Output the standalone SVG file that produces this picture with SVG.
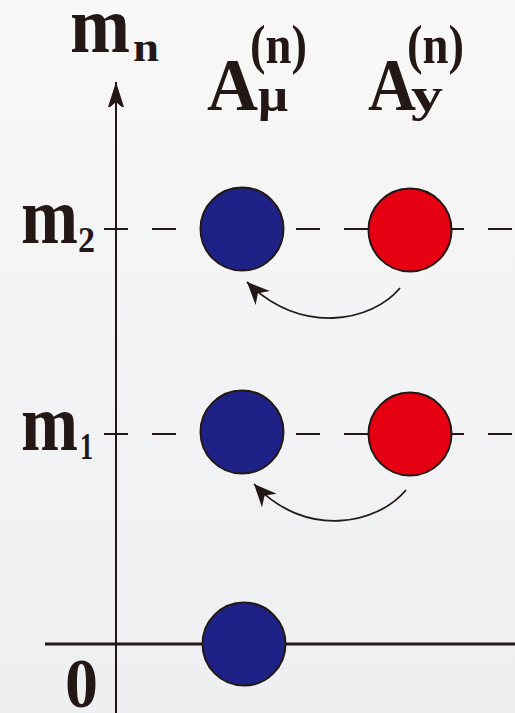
<svg xmlns="http://www.w3.org/2000/svg" width="515" height="713" viewBox="0 0 515 713">
<defs>
<linearGradient id="bg" x1="0" y1="0" x2="0" y2="1">
<stop offset="0" stop-color="#f8f8f8"/>
<stop offset="1" stop-color="#eeeff1"/>
</linearGradient>
<marker id="ah" markerUnits="userSpaceOnUse" markerWidth="30" markerHeight="30" viewBox="-20 -10 24 20" refX="0" refY="0" orient="auto">
<path d="M0,0 L-18,-8 L-12.5,0 L-18,8 Z" fill="#231815"/>
</marker>
<marker id="ah2" markerUnits="userSpaceOnUse" markerWidth="30" markerHeight="30" viewBox="-20 -10 24 20" refX="0" refY="0" orient="auto">
<path d="M0,0 L-22,-7 L-16,0 L-22,7 Z" fill="#231815"/>
</marker>
</defs>
<style>
.t{font-family:'Liberation Serif','DejaVu Serif',serif;font-weight:bold;fill:#231815}
.ax{stroke:#231815;fill:none}
.dash{stroke:#231815;stroke-width:2;stroke-dasharray:24 24;fill:none}
.blue{fill:#1e2185;stroke:#231815;stroke-width:2}
.red{fill:#e50012;stroke:#231815;stroke-width:2}
.arc{stroke:#231815;stroke-width:1.8;fill:none;marker-end:url(#ah)}
</style>
<rect width="515" height="713" fill="url(#bg)"/>
<g id="connectors">
<line class="ax" x1="116" y1="713" x2="116" y2="82" stroke-width="2" marker-end="url(#ah2)"/>
<line class="ax" x1="45" y1="644" x2="515" y2="644" stroke-width="3"/>
<line class="dash" x1="104" y1="229" x2="515" y2="229"/>
<line class="dash" x1="104" y1="434" x2="515" y2="434"/>
<path class="arc" d="M400,288 C372,322 300,336 247,282"/>
<path class="arc" d="M406,490 C378,524 306,540 254,484"/>
</g>
<g id="label-mn">
<text class="t" x="70" y="52" font-size="80" textLength="60" lengthAdjust="spacingAndGlyphs">m</text>
<text class="t" x="133" y="61" font-size="42" textLength="26" lengthAdjust="spacingAndGlyphs">n</text>
</g>
<g id="label-Amu">
<text class="t" x="207" y="110" font-size="74" textLength="51" lengthAdjust="spacingAndGlyphs">A</text>
<text class="t" x="258" y="111" font-size="48" textLength="30" lengthAdjust="spacingAndGlyphs">μ</text>
<text class="t" x="250" y="63" font-size="54" textLength="57" lengthAdjust="spacingAndGlyphs">(n)</text>
</g>
<g id="label-Ay">
<text class="t" x="368" y="110" font-size="74" textLength="48" lengthAdjust="spacingAndGlyphs">A</text>
<text class="t" x="411" y="111" font-size="48" textLength="32" lengthAdjust="spacingAndGlyphs">y</text>
<text class="t" x="407" y="63" font-size="54" textLength="57" lengthAdjust="spacingAndGlyphs">(n)</text>
</g>
<g id="label-m2">
<text class="t" x="21" y="243" font-size="80" textLength="57" lengthAdjust="spacingAndGlyphs">m</text>
<text class="t" x="78" y="252" font-size="36" textLength="17" lengthAdjust="spacingAndGlyphs">2</text>
</g>
<g id="label-m1">
<text class="t" x="21" y="450" font-size="80" textLength="57" lengthAdjust="spacingAndGlyphs">m</text>
<text class="t" x="80" y="459" font-size="38" textLength="13" lengthAdjust="spacingAndGlyphs">1</text>
</g>
<g id="label-0">
<text class="t" x="65" y="707" font-size="70" textLength="33" lengthAdjust="spacingAndGlyphs">0</text>
</g>
<g id="A-mu-2"><circle class="blue" cx="242" cy="229" r="41.5"/></g>
<g id="A-y-2"><circle class="red" cx="410" cy="230" r="41.5"/></g>
<g id="A-mu-1"><circle class="blue" cx="242" cy="432" r="41.5"/></g>
<g id="A-y-1"><circle class="red" cx="410" cy="434" r="41.5"/></g>
<g id="A-mu-0"><circle class="blue" cx="244" cy="644" r="41.5"/></g>
</svg>
